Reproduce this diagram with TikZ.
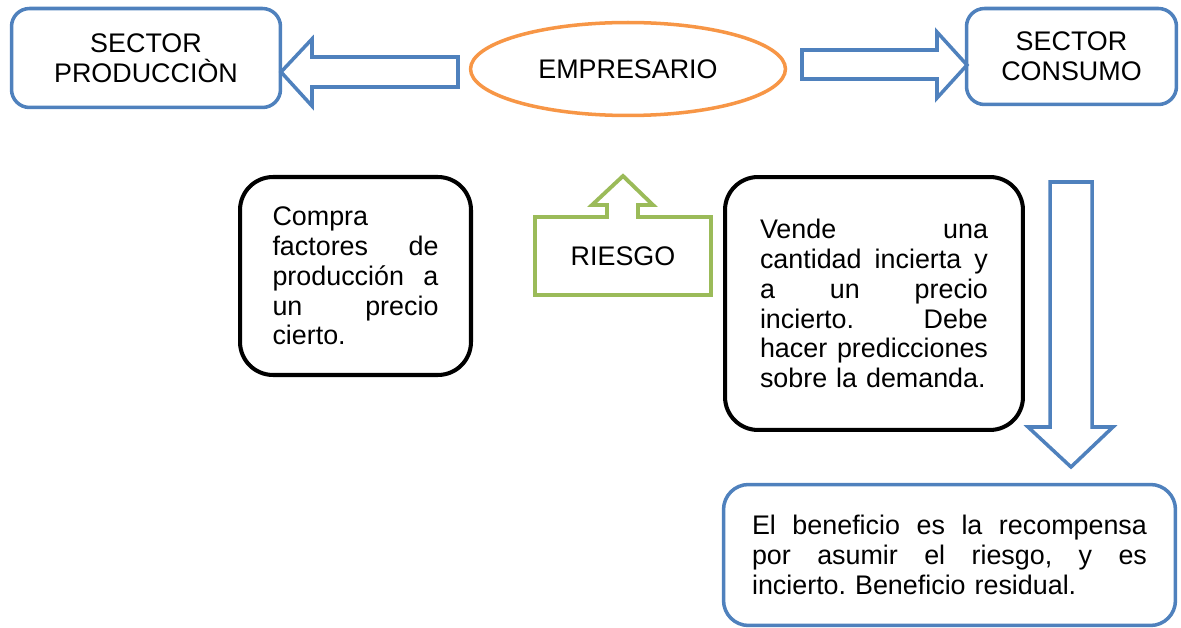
\documentclass[tikz,border=0pt]{standalone}
\usepackage{fontspec}
\setmainfont{Liberation Sans}
\usepackage{tikz}
\usetikzlibrary{shapes.geometric}
\definecolor{sectorblue}{HTML}{4F81BD}
\definecolor{emporange}{HTML}{F79646}
\definecolor{riskgreen}{HTML}{9BBB59}
\frenchspacing

\begin{document}
\begin{tikzpicture}[
		x=0.02cm, y=-0.02cm,
		txt/.style={font=\fontsize{15.3}{17}\selectfont},
		sector/.style={txt, rectangle, rounded corners=0.36cm, draw=sectorblue, line width=2pt, align=center, inner sep=0pt},
		actbox/.style={txt, rectangle, rounded corners=0.66cm, draw=black, line width=2.3pt, align=left, inner sep=0pt},
		blockarrow/.style={draw=sectorblue, fill=white, line width=2pt},
		]
	
		\useasboundingbox (0,0) rectangle (1181,628);
	
		% --- Ligne du haut ---
		\node[sector, minimum width=5.38cm, minimum height=1.98cm] (prod) at (146,58) {SECTOR\\PRODUCCIÒN};
		\node[txt, ellipse, draw=emporange, line width=2pt, minimum width=6.3cm, minimum height=1.86cm, inner sep=0pt] (emp) at (628,69) {EMPRESARIO};
		\node[sector, minimum width=4.2cm, minimum height=1.92cm] (cons) at (1071.5,56.5) {SECTOR\\CONSUMO};
	
		% Flèches larges
		\draw[blockarrow] (458,57) -- (312,57) -- (312,39) -- (281,72) -- (312,106) -- (312,87) -- (458,87) -- cycle;
		\draw[blockarrow] (802,50) -- (937,50) -- (937,32) -- (967,65) -- (937,98) -- (937,79) -- (802,79) -- cycle;
		\draw[blockarrow] (1050,182) -- (1092,182) -- (1092,427) -- (1113,427) -- (1071,467) -- (1028,427) -- (1050,427) -- cycle;
	
		% --- Boîtes du milieu ---
		\node[actbox, minimum width=4.62cm, minimum height=3.96cm, text width=3.32cm] (compra) at (355.5,276)
			{Compra\\factores\hfill de\\producción\hfill a\\un\hfill precio\\cierto.};
	
		\draw[riskgreen, line width=2.2pt] (535,217) -- (607,217) -- (607,205) -- (592,205) -- (623,176) -- (653,205)
			-- (638,205) -- (638,217) -- (711,217) -- (711,295) -- (535,295) -- cycle;
		\node[txt] (riesgo) at (623,256) {RIESGO};
	
		\node[actbox, minimum width=5.96cm, minimum height=5.06cm, text width=4.56cm] (vende) at (874,303.5)
			{Vende\hfill una\\cantidad\hfill incierta\hfill y\\a\hfill un\hfill precio\\incierto.\hfill Debe\\hacer\hfill predicciones\\sobre la demanda.};
	
		% --- Boîte du bas ---
		\node[actbox, draw=sectorblue, line width=2pt, rounded corners=0.5cm, minimum width=9.04cm, minimum height=2.82cm, text width=7.9cm] (benef) at (949.5,555)
			{El\hfill beneficio\hfill es\hfill la\hfill recompensa\\por\hfill asumir\hfill el\hfill riesgo,\hfill y\hfill es\\incierto. Beneficio residual.};
	
	\end{tikzpicture}
\end{document}
